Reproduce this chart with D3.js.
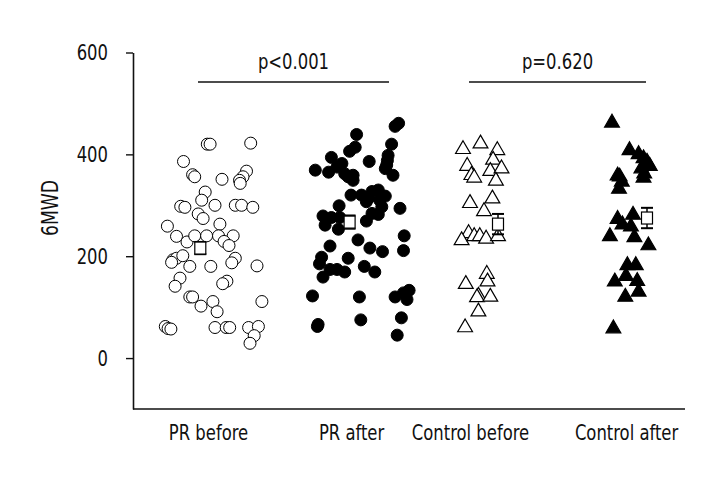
<!DOCTYPE html>
<html>
<head>
<meta charset="utf-8">
<script src="https://cdn.jsdelivr.net/npm/d3@7"></script>
<style>
  body { margin: 0; background: #fff; }
  text { font-family: "DejaVu Sans Condensed", "DejaVu Sans", sans-serif; fill: #111; }
  /* squeeze the text a bit, the original uses a narrow condensed face */
  .narrow { transform-box: fill-box; transform-origin: center; transform: scaleX(0.83); }
  .narrow-right { transform-box: fill-box; transform-origin: right center; transform: scaleX(0.83); }
</style>
</head>
<body>
<svg id="chart" width="720" height="480"></svg>
<script>
// group labels
var groups = ["PR before", "PR after", "Control before", "Control after"];

// 6MWD values, jitter is horizontal spread (-1..1)
var prBeforeValues = [420, 420, 422, 386, 360, 356, 351, 367, 356, 349, 343, 326, 310, 300, 298, 296, 300, 300, 296,
  283, 274, 263, 259, 239, 228, 240, 240, 240, 240, 229, 221, 193, 196, 201, 188, 180, 180, 196, 187, 181,
  157, 141, 151, 146, 120, 120, 102, 111, 91, 111, 62, 58, 57, 60, 60, 60, 60, 62, 44, 29];
var prBeforeJitter = [-0.01, 0.03, 0.61, -0.35, -0.22, -0.19, 0.20, 0.55, 0.50, 0.45, 0.46, -0.04, -0.09, 0.10, -0.39, -0.33, 0.39, 0.48, 0.64,
  -0.14, -0.07, 0.17, -0.58, -0.45, -0.30, -0.19, -0.02, 0.15, 0.36, 0.23, 0.30, -0.50, -0.45, -0.36, -0.52, -0.26, 0.04, 0.39, 0.34, 0.70,
  -0.40, -0.47, 0.27, 0.21, -0.26, -0.22, -0.10, 0.07, 0.13, 0.77, -0.61, -0.57, -0.53, 0.10, 0.26, 0.31, 0.58, 0.72, 0.66, 0.60];

var prAfterValues = [461, 455, 439, 414, 406, 420, 394, 382, 375, 386, 398, 388, 379, 372, 369, 365, 362, 356, 359, 349, 359,
  320, 320, 314, 327, 330, 318, 310, 307, 297, 299, 294, 279, 276, 276, 284, 282, 261, 269, 253, 240, 232, 220,
  216, 209, 211, 196, 198, 185, 174, 174, 169, 180, 169, 159, 122, 120, 120, 128, 133, 115, 62, 66, 75, 79, 45];
var prAfterJitter = [0.68, 0.63, 0.08, 0.06, -0.02, 0.58, -0.28, -0.13, -0.20, 0.26, 0.53, 0.52, 0.51, 0.49, -0.51, -0.32, -0.09, -0.04, 0.03, 0.03, 0.60,
  0.00, 0.15, 0.25, 0.30, 0.39, 0.49, 0.41, 0.22, 0.44, -0.17, 0.70, -0.40, -0.28, -0.16, 0.30, 0.39, -0.37, 0.22, -0.18, 0.76, 0.10, -0.30,
  0.27, 0.45, 0.75, -0.04, -0.42, -0.45, -0.30, -0.20, -0.09, 0.19, 0.34, -0.40, -0.55, 0.12, 0.63, 0.75, 0.83, 0.80, -0.48, -0.47, 0.14, 0.72, 0.66];

var controlBeforeValues = [413, 424, 411, 392, 380, 362, 357, 370, 375, 351, 316, 307, 291, 248, 234, 242, 242, 237, 242,
  168, 153, 148, 125, 122, 123, 94, 63];
var controlBeforeJitter = [-0.10, 0.15, 0.39, 0.33, -0.04, 0.02, 0.06, 0.29, 0.45, 0.37, 0.32, 0.00, 0.20, -0.02, -0.12, 0.06, 0.14, 0.23, 0.40,
  0.24, 0.25, -0.06, 0.12, 0.10, 0.29, 0.12, -0.07];

var controlAfterValues = [465, 411, 403, 395, 388, 380, 375, 365, 357, 361, 359, 349, 335, 276, 265, 284, 261, 242, 240, 224,
  185, 185, 164, 154, 153, 133, 123, 61];
var controlAfterJitter = [-0.20, 0.05, 0.18, 0.25, 0.30, 0.34, 0.22, 0.26, 0.25, -0.12, -0.09, -0.06, -0.10, -0.12, -0.05, 0.10, 0.07, -0.23, 0.12, 0.32,
  0.02, 0.14, 0.00, 0.16, -0.16, 0.18, -0.01, -0.18];

// mean +/- SE squares
var groupMeans = [216, 267, 263, 275];
var groupErrors = [12, 13, 20, 20];
var meanJitter = [-0.11, -0.02, 0.40, 0.30];

var yTicks = [0, 200, 400, 600];
var pLabels = ["p<0.001", "p=0.620"];

var svg = d3.select("#chart");
var plotLeft = 133, plotRight = 685, plotTop = 52.5, plotBottom = 409;

var xScale = d3.scaleOrdinal()
  .domain(groups)
  .range([208, 351, 470, 626]);
var jitterScale = d3.scaleLinear().domain([-1, 1]).range([-70, 70]);
var yScale = d3.scaleLinear().domain([-100, 600]).range([plotBottom, plotTop]);

function px(g, j) { return xScale(g) + jitterScale(j); }

// axes
var yAxis = d3.axisLeft(yScale).tickValues(yTicks).tickSize(7).tickSizeOuter(0).tickPadding(18);
var yG = svg.append("g").attr("transform", "translate(" + plotLeft + ",0)").call(yAxis);
yG.select(".domain").attr("stroke", "#111").attr("stroke-width", 1.6);
yG.selectAll(".tick line").attr("stroke", "#111").attr("stroke-width", 1.4);
yG.selectAll(".tick text").attr("class", "narrow-right").style("font-size", "22px").attr("fill", "#111");

var xAxis = d3.axisBottom(xScale).tickSize(0).tickPadding(15);
var xG = svg.append("g").attr("transform", "translate(0," + plotBottom + ")").call(xAxis);
xG.select(".domain").remove();
xG.selectAll(".tick text").attr("class", "narrow").style("font-size", "22px").attr("fill", "#111");
svg.append("line")
  .attr("x1", plotLeft).attr("x2", plotRight)
  .attr("y1", plotBottom).attr("y2", plotBottom)
  .attr("stroke", "#111").attr("stroke-width", 1.6);

svg.append("g")
  .attr("transform", "translate(58,208) rotate(-90)")
  .append("text")
  .attr("class", "narrow")
  .attr("text-anchor", "middle")
  .style("font-size", "23px")
  .text("6MWD");

// points
var circleData = [];
prBeforeValues.forEach(function(v, i) { circleData.push({g: groups[0], v: v, j: prBeforeJitter[i], filled: false}); });
prAfterValues.forEach(function(v, i) { circleData.push({g: groups[1], v: v, j: prAfterJitter[i], filled: true}); });

var triData = [];
controlBeforeValues.forEach(function(v, i) { triData.push({g: groups[2], v: v, j: controlBeforeJitter[i], filled: false}); });
controlAfterValues.forEach(function(v, i) { triData.push({g: groups[3], v: v, j: controlAfterJitter[i], filled: true}); });

svg.append("g").selectAll("circle")
  .data(circleData)
  .enter()
  .append("circle")
  .attr("cx", d => px(d.g, d.j))
  .attr("cy", d => yScale(d.v))
  .attr("r", 6)
  .attr("fill", d => d.filled ? "#000" : "#fff")
  .attr("stroke", "#000")
  .attr("stroke-width", 1);

var triangle = d3.symbol().type(d3.symbolTriangle).size(95);
svg.append("g").selectAll("path")
  .data(triData)
  .enter()
  .append("path")
  .attr("d", triangle)
  .attr("transform", d => "translate(" + px(d.g, d.j) + "," + (yScale(d.v) + 1.5) + ")")
  .attr("fill", d => d.filled ? "#000" : "#fff")
  .attr("stroke", "#000")
  .attr("stroke-width", 1.2);

// mean + error bars
var meanG = svg.append("g").selectAll("g")
  .data(groups)
  .enter()
  .append("g");

meanG.append("line")
  .attr("x1", (d, i) => px(d, meanJitter[i])).attr("x2", (d, i) => px(d, meanJitter[i]))
  .attr("y1", (d, i) => yScale(groupMeans[i] + groupErrors[i]))
  .attr("y2", (d, i) => yScale(groupMeans[i] - groupErrors[i]))
  .attr("stroke", "#000").attr("stroke-width", 1.5);
[1, -1].forEach(function(s) {
  meanG.append("line")
    .attr("x1", (d, i) => px(d, meanJitter[i]) - 6).attr("x2", (d, i) => px(d, meanJitter[i]) + 6)
    .attr("y1", (d, i) => yScale(groupMeans[i] + s * groupErrors[i]))
    .attr("y2", (d, i) => yScale(groupMeans[i] + s * groupErrors[i]))
    .attr("stroke", "#000").attr("stroke-width", 2);
});
meanG.append("rect")
  .attr("x", (d, i) => px(d, meanJitter[i]) - 5.5)
  .attr("y", (d, i) => yScale(groupMeans[i]) - 6)
  .attr("width", 11).attr("height", 12)
  .attr("fill", "#fff").attr("stroke", "#000").attr("stroke-width", 1.2);

// p-value brackets
var brackets = [{x1: 198, x2: 389}, {x1: 469, x2: 646}];
brackets.forEach(function(b, i) {
  svg.append("line")
    .attr("x1", b.x1).attr("x2", b.x2).attr("y1", 82).attr("y2", 82)
    .attr("stroke", "#111").attr("stroke-width", 1.6);
  svg.append("text")
    .attr("class", "narrow")
    .attr("x", (b.x1 + b.x2) / 2).attr("y", 69)
    .attr("text-anchor", "middle")
    .style("font-size", "22px")
    .text(pLabels[i]);
});
</script>
</body>
</html>
